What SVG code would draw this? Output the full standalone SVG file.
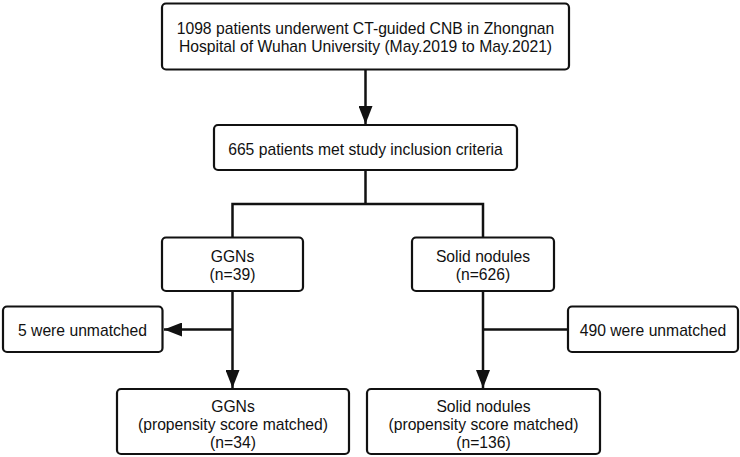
<svg xmlns="http://www.w3.org/2000/svg" width="740" height="457" viewBox="0 0 740 457">
<style>
.box{fill:#fff;stroke:#111;stroke-width:2.2}
.t{font-family:"Liberation Sans",Arial,sans-serif;font-size:15.7px;fill:#111;text-anchor:middle}
.c{fill:none;stroke:#111;stroke-width:2.5}
</style>
<defs>
<marker id="ah" markerUnits="userSpaceOnUse" markerWidth="18" markerHeight="14" refX="18" refY="7" orient="auto">
<path d="M0,0 L18,7 L0,14 z" fill="#111"/>
</marker>
</defs>
<rect width="740" height="457" fill="#fff"/>
<g id="connectors">
<line class="c" x1="365.5" y1="69" x2="365.5" y2="124" marker-end="url(#ah)"/>
<polyline class="c" points="365.5,170 365.5,204"/>
<polyline class="c" points="232.5,237 232.5,204 483,204 483,238"/>
<line class="c" x1="232.5" y1="291" x2="232.5" y2="388" marker-end="url(#ah)"/>
<line class="c" x1="232.5" y1="329.5" x2="164" y2="329.5" marker-end="url(#ah)"/>
<line class="c" x1="483" y1="291" x2="483" y2="388" marker-end="url(#ah)"/>
<line class="c" x1="483" y1="329.5" x2="568" y2="329.5"/>
</g>
<g id="n1">
<rect class="box" x="162" y="3.5" width="407" height="66" rx="4"/>
<text class="t" x="365.5" y="34">1098 patients underwent CT-guided CNB in Zhongnan</text>
<text class="t" x="365.5" y="52">Hospital of Wuhan University (May.2019 to May.2021)</text>
</g>
<g id="n2">
<rect class="box" x="214" y="125" width="303" height="45" rx="4"/>
<text class="t" x="365.5" y="154.5">665 patients met study inclusion criteria</text>
</g>
<g id="n3">
<rect class="box" x="162" y="237.5" width="141" height="53.5" rx="4"/>
<text class="t" x="232.5" y="262">GGNs</text>
<text class="t" x="232.5" y="280">(n=39)</text>
</g>
<g id="n4">
<rect class="box" x="412" y="237.5" width="142" height="53.5" rx="4"/>
<text class="t" x="483" y="262">Solid nodules</text>
<text class="t" x="483" y="280">(n=626)</text>
</g>
<g id="n5">
<rect class="box" x="3" y="306.5" width="159.5" height="45.5" rx="4"/>
<text class="t" x="82.5" y="336">5 were unmatched</text>
</g>
<g id="n6">
<rect class="box" x="568" y="306.5" width="170" height="45.5" rx="4"/>
<text class="t" x="653" y="336">490 were unmatched</text>
</g>
<g id="n7">
<rect class="box" x="117" y="389" width="232" height="65" rx="4"/>
<text class="t" x="233" y="411.5">GGNs</text>
<text class="t" x="233" y="429.5">(propensity score matched)</text>
<text class="t" x="233" y="447.5">(n=34)</text>
</g>
<g id="n8">
<rect class="box" x="367" y="389" width="233" height="65" rx="4"/>
<text class="t" x="483.5" y="411.5">Solid nodules</text>
<text class="t" x="483.5" y="429.5">(propensity score matched)</text>
<text class="t" x="483.5" y="447.5">(n=136)</text>
</g>
</svg>
